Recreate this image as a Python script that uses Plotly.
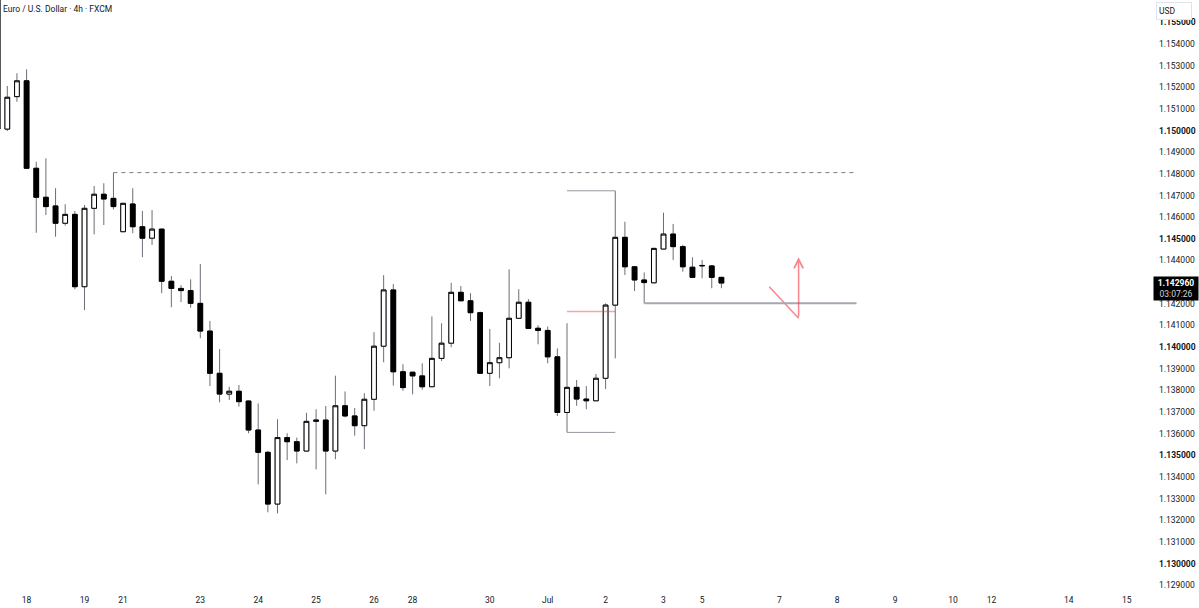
import plotly.graph_objects as go

# ---- data (4h EURUSD candles, bar index -1 .. 74) ----
bar_index = list(range(-1, 75))
opens = [1.15750, 1.15007, 1.15157, 1.15230, 1.14826, 1.14692, 1.14652, 1.14572, 1.14613, 1.14279,
         1.14641, 1.14706, 1.14687, 1.14533, 1.14661, 1.14556, 1.14503, 1.14545, 1.14304, 1.14271,
         1.14261, 1.14202, 1.14074, 1.13879, 1.13783, 1.13796, 1.13751, 1.13617, 1.13514, 1.13275,
         1.13582, 1.13563, 1.13520, 1.13657, 1.13663, 1.13520, 1.13729, 1.13682, 1.13637, 1.13759,
         1.14004, 1.14264, 1.13886, 1.13884, 1.13867, 1.13817, 1.13948, 1.14018, 1.14253, 1.14214,
         1.14159, 1.13879, 1.13928, 1.13951, 1.14133, 1.14207, 1.14087, 1.14077, 1.13955, 1.13698,
         1.13814, 1.13760, 1.13752, 1.13856, 1.14194, 1.14507, 1.14371, 1.14310, 1.14297, 1.14453,
         1.14522, 1.14464, 1.14369, 1.14375, 1.14375, 1.14322]
highs = [1.15800, 1.15206, 1.15265, 1.15283, 1.14856, 1.14872, 1.14734, 1.14660, 1.14629, 1.14656,
         1.14744, 1.14757, 1.14806, 1.14664, 1.14734, 1.14629, 1.14633, 1.14545, 1.14328, 1.14286,
         1.14313, 1.14384, 1.14121, 1.13991, 1.13817, 1.13825, 1.13752, 1.13740, 1.13521, 1.13667,
         1.13602, 1.13582, 1.13697, 1.13713, 1.13728, 1.13868, 1.13795, 1.13719, 1.13787, 1.14069,
         1.14332, 1.14291, 1.13921, 1.13884, 1.13925, 1.14142, 1.14110, 1.14297, 1.14282, 1.14249,
         1.14164, 1.14084, 1.14020, 1.14359, 1.14267, 1.14222, 1.14101, 1.14095, 1.13994, 1.14110,
         1.13848, 1.13820, 1.13876, 1.14202, 1.14722, 1.14579, 1.14371, 1.14345, 1.14456, 1.14621,
         1.14569, 1.14472, 1.14415, 1.14402, 1.14379, 1.14325]
lows = [1.15000, 1.14998, 1.15133, 1.14826, 1.14528, 1.14610, 1.14510, 1.14561, 1.14267, 1.14171,
        1.14521, 1.14564, 1.14636, 1.14533, 1.14526, 1.14415, 1.14472, 1.14249, 1.14184, 1.14208,
        1.14182, 1.14041, 1.13820, 1.13745, 1.13756, 1.13725, 1.13602, 1.13366, 1.13237, 1.13232,
        1.13478, 1.13463, 1.13520, 1.13435, 1.13320, 1.13482, 1.13676, 1.13591, 1.13529, 1.13706,
        1.13930, 1.13822, 1.13798, 1.13782, 1.13803, 1.13817, 1.13936, 1.13999, 1.14214, 1.14121,
        1.13879, 1.13820, 1.13856, 1.13902, 1.14133, 1.14084, 1.14013, 1.13925, 1.13682, 1.13606,
        1.13729, 1.13713, 1.13752, 1.13806, 1.13948, 1.14333, 1.14259, 1.14201, 1.14297, 1.14453,
        1.14402, 1.14348, 1.14322, 1.14318, 1.14272, 1.14272]
closes = [1.15007, 1.15154, 1.15230, 1.14826, 1.14692, 1.14649, 1.14572, 1.14613, 1.14279, 1.14641,
          1.14706, 1.14684, 1.14649, 1.14664, 1.14556, 1.14503, 1.14545, 1.14304, 1.14271, 1.14261,
          1.14202, 1.14074, 1.13879, 1.13783, 1.13796, 1.13748, 1.13617, 1.13514, 1.13275, 1.13582,
          1.13563, 1.13520, 1.13657, 1.13663, 1.13520, 1.13729, 1.13682, 1.13637, 1.13759, 1.14004,
          1.14264, 1.13886, 1.13813, 1.13867, 1.13817, 1.13948, 1.14018, 1.14253, 1.14214, 1.14159,
          1.13879, 1.13928, 1.13951, 1.14133, 1.14207, 1.14086, 1.14077, 1.13955, 1.13698, 1.13814,
          1.13760, 1.13752, 1.13856, 1.14194, 1.14507, 1.14371, 1.14310, 1.14298, 1.14456, 1.14522,
          1.14464, 1.14371, 1.14322, 1.14377, 1.14322, 1.14296]

# time axis labels (bar index where each label sits)
date_tick_index = [2, 8, 12, 20, 26, 32, 38, 42, 50, 56, 62, 68, 72, 80, 86, 92, 98, 102, 110, 116]
date_tick_text = ["18", "19", "21", "23", "24", "25", "26", "28", "30", "Jul",
                  "2", "3", "5", "7", "8", "9", "10", "12", "14", "15"]

# price axis labels (1.143000 is hidden behind the last-price tag)
price_ticks = [1.129, 1.130, 1.131, 1.132, 1.133, 1.134, 1.135, 1.136, 1.137, 1.138, 1.139,
               1.140, 1.141, 1.142, 1.144, 1.145, 1.146, 1.147, 1.148, 1.149, 1.150,
               1.151, 1.152, 1.153, 1.154, 1.155]

# drawings (bar index / price)
dashed_level = 1.14806
dashed_x = [11, 88]
bracket_x = [58, 63]
bracket_high = 1.14722
bracket_low = 1.13606
red_level = 1.14164
support_level = 1.14202
support_x = [66, 88]
arrow_x = [78.96, 82.0, 82.0]
arrow_y = [1.14279, 1.14133, 1.14415]
last_price = 1.14296
countdown = "03:07:26"

# ---- figure ----
W, H = 1199, 608
ML, MR, MT, MB = 0, 52, 0, 20
plot_w = W - ML - MR
plot_h = H - MT - MB
bar_px = 9.65
first_px = 7.3
x_range = [-first_px / bar_px, (plot_w - first_px) / bar_px]
px_per_price = 21650.0
y_top = 1.154 + 44 / px_per_price
y_range = [y_top - plot_h / px_per_price, y_top]

wick_color = "#6b6e78"
body_line = "#000000"
font_family = "Roboto, 'Liberation Sans', Arial, sans-serif"
text_color = "#131722"
fs = 8.5

fig = go.Figure()

# wicks
fig.add_trace(go.Candlestick(
    x=bar_index, open=opens, high=highs, low=lows, close=closes,
    increasing=dict(line=dict(color=wick_color, width=1), fillcolor="#ffffff"),
    decreasing=dict(line=dict(color=wick_color, width=1), fillcolor="#000000"),
    whiskerwidth=0, hoverinfo="skip", showlegend=False,
))
# bodies
body_hi = [max(o, c) for o, c in zip(opens, closes)]
body_lo = [min(o, c) for o, c in zip(opens, closes)]
fig.add_trace(go.Candlestick(
    x=bar_index, open=opens, high=body_hi, low=body_lo, close=closes,
    increasing=dict(line=dict(color=body_line, width=1), fillcolor="#ffffff"),
    decreasing=dict(line=dict(color=body_line, width=1), fillcolor="#000000"),
    whiskerwidth=0, hoverinfo="skip", showlegend=False,
))

# drawings
fig.add_shape(type="line", xref="x", yref="y", x0=dashed_x[0], x1=dashed_x[1],
              y0=dashed_level, y1=dashed_level, line=dict(color="#787b86", width=1, dash="4px,4px"))
for lvl in (bracket_high, bracket_low):
    fig.add_shape(type="line", xref="x", yref="y", x0=bracket_x[0], x1=bracket_x[1],
                  y0=lvl, y1=lvl, line=dict(color="#9598a1", width=1))
fig.add_shape(type="line", xref="x", yref="y", x0=bracket_x[0], x1=bracket_x[1],
              y0=red_level, y1=red_level, line=dict(color="rgba(242,54,69,0.45)", width=1.5))
fig.add_shape(type="line", xref="x", yref="y", x0=support_x[0], x1=support_x[1],
              y0=support_level, y1=support_level, line=dict(color="#a5a8b0", width=2))

fig.add_trace(go.Scatter(x=arrow_x[:2], y=arrow_y[:2], mode="lines",
                         line=dict(color="rgba(242,54,69,0.6)", width=1.5),
                         hoverinfo="skip", showlegend=False))
fig.add_annotation(x=arrow_x[2], y=arrow_y[2], ax=arrow_x[1], ay=arrow_y[1],
                   xref="x", yref="y", axref="x", ayref="y", text="",
                   showarrow=True, arrowhead=5, arrowsize=1.2, arrowwidth=1.5,
                   arrowcolor="rgba(242,54,69,0.6)")

# title
fig.add_annotation(xref="paper", yref="paper", x=1 / plot_w, y=1 - 9 / plot_h,
                   xanchor="left", yanchor="middle", showarrow=False,
                   text="Euro / U.S. Dollar · 4h · FXCM",
                   font=dict(family=font_family, size=fs, color=text_color))

# USD box
fig.add_annotation(xref="paper", yref="paper", x=(1156 - ML) / plot_w, y=1 - 2 / plot_h,
                   xanchor="left", yanchor="top", showarrow=False, text="USD",
                   width=30, height=12, align="left",
                   bgcolor="#ffffff", bordercolor="#e0e3eb", borderwidth=1, borderpad=2,
                   font=dict(family=font_family, size=fs, color=text_color))

# last price label
fig.add_annotation(xref="paper", yref="y", x=(1153 - ML) / plot_w, y=last_price,
                   xanchor="left", yanchor="middle", yshift=-5, showarrow=False,
                   text=f"<b>{last_price:.6f}</b><br><span style='color:#d1d4dc'>{countdown}</span>",
                   bgcolor="#000000", borderpad=1, width=42, align="center",
                   font=dict(family=font_family, size=fs, color="#ffffff"))

price_text = [(f"<b>{v:.6f}</b>" if round(v * 1000) % 5 == 0 else f"{v:.6f}") for v in price_ticks]

fig.update_layout(
    width=W, height=H,
    margin=dict(l=ML, r=MR, t=MT, b=MB, pad=0),
    paper_bgcolor="#ffffff", plot_bgcolor="#ffffff",
    font=dict(family=font_family, size=fs, color=text_color),
    xaxis=dict(range=x_range, showgrid=False, zeroline=False, showline=False,
               rangeslider=dict(visible=False), tickmode="array",
               tickvals=date_tick_index, ticktext=date_tick_text, ticks="",
               ticklabelstandoff=5, tickfont=dict(size=fs, color=text_color), fixedrange=True),
    yaxis=dict(range=y_range, side="right", showgrid=False, zeroline=False, showline=False,
               tickmode="array", tickvals=price_ticks, ticktext=price_text, ticks="",
               ticklabelstandoff=11, tickfont=dict(size=fs, color=text_color), fixedrange=True),
    showlegend=False,
)

fig.write_html("out.html")
